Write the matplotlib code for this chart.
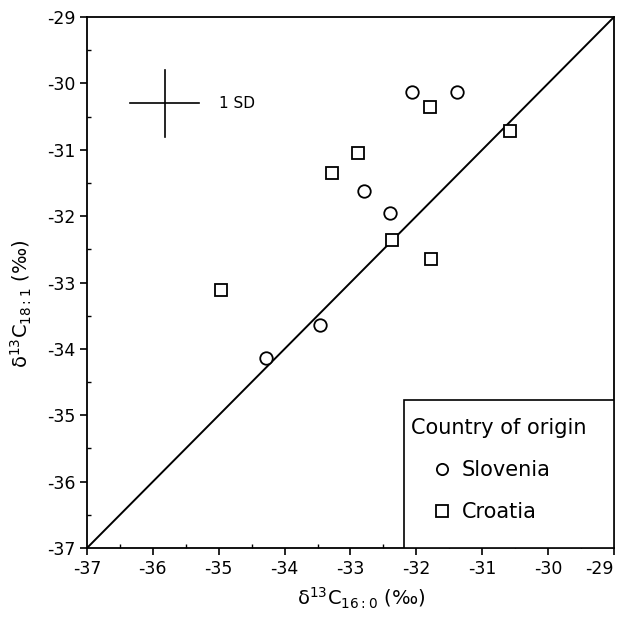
import matplotlib
matplotlib.use("Agg")
import matplotlib.pyplot as plt
from matplotlib.patches import Rectangle

plt.rcParams['font.family'] = ['DejaVu Sans']
plt.rcParams['axes.unicode_minus'] = False
plt.rcParams['mathtext.fontset'] = 'dejavusans'

# delta13C values (per mil)
slo_x = [-32.07, -31.39, -32.80, -32.40, -33.46, -34.28]
slo_y = [-30.13, -30.13, -31.62, -31.95, -33.64, -34.14]
cro_x = [-31.80, -30.58, -32.89, -33.28, -32.37, -31.78, -34.97]
cro_y = [-30.36, -30.72, -31.05, -31.35, -32.36, -32.64, -33.11]

ticks = [-37, -36, -35, -34, -33, -32, -31, -30, -29]

# 1 SD cross
sd_x = -35.82
sd_y = -30.30
sd_half_x = 0.52
sd_half_y = 0.50

fig = plt.figure(figsize=(6.2, 6.17), dpi=100)
ax = fig.add_axes([0.1403, 0.1118, 0.850, 0.8606])

# 1:1 line
ax.plot([-37, -29], [-37, -29], color='black', lw=1.4, zorder=2)

ax.plot(slo_x, slo_y, 'o', ms=9, mfc='white', mec='black', mew=1.3,
        label='Slovenia', zorder=3)
ax.plot(cro_x, cro_y, 's', ms=9, mfc='white', mec='black', mew=1.3,
        label='Croatia', zorder=3)

# scale bar cross
ax.plot([sd_x - sd_half_x, sd_x + sd_half_x], [sd_y, sd_y], color='black', lw=1.2)
ax.plot([sd_x, sd_x], [sd_y - sd_half_y, sd_y + sd_half_y], color='black', lw=1.2)
ax.text(-35.0, sd_y, '1 SD', fontsize=11, va='center', ha='left')

ax.set_xlim(-37, -29)
ax.set_ylim(-37, -29)
ax.set_xticks(ticks)
ax.set_yticks(ticks)
ax.set_xticks([t + 0.5 for t in ticks[:-1]], minor=True)
ax.set_yticks([t + 0.5 for t in ticks[:-1]], minor=True)
ax.tick_params(axis='both', which='major', direction='out', length=5,
               width=1.2, labelsize=12.5)
ax.tick_params(axis='both', which='minor', direction='in', length=3, width=1)
ax.get_xticklabels()[-1].set_horizontalalignment('right')
for s in ax.spines.values():
    s.set_linewidth(1.3)

ax.set_xlabel('δ$^{13}$C$_{16:0}$ (‰)', fontsize=14)
ax.set_ylabel('δ$^{13}$C$_{18:1}$ (‰)', fontsize=14)
ax.xaxis.set_label_coords(0.52, -0.072)
ax.yaxis.set_label_coords(-0.10, 0.46)

# legend box touching the right and bottom axes
ax.add_patch(Rectangle((0.6015, 0.0), 0.3985, 0.279, transform=ax.transAxes,
                       fill=True, facecolor='white', edgecolor='black',
                       lw=1.2, zorder=4))
leg = ax.legend(title='Country of origin', loc='upper left',
                bbox_to_anchor=(0.582, 0.279), borderaxespad=0, fontsize=15,
                title_fontsize=15, frameon=False, alignment='left',
                borderpad=0.85, labelspacing=1.07, handletextpad=-0.5,
                handlelength=2.9, markerscale=0.9)
leg.set_zorder(5)

fig.savefig('out.png', dpi=100)
